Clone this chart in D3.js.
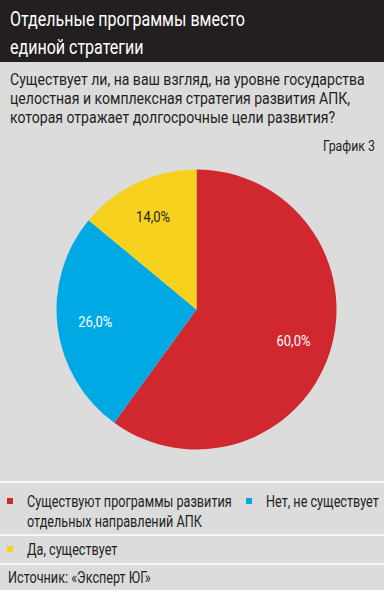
<!DOCTYPE html>
<html>
<head>
<meta charset="utf-8">
<script src="https://cdn.jsdelivr.net/npm/d3@7"></script>
<style>
  body { margin: 0; background: #fff; }
  svg text { font-family: "Roboto", "Liberation Sans", sans-serif; }
</style>
</head>
<body>
<svg id="chart" width="384" height="597"></svg>
<script>
// chart data
var categories = ["Существуют программы развития отдельных направлений АПК", "Нет, не существует", "Да, существует"];
var values = [60.0, 26.0, 14.0];
var labels = ["60,0%", "26,0%", "14,0%"];

var title = ["Отдельные программы вместо", "единой стратегии"];
var question = ["Существует ли, на ваш взгляд, на уровне государства",
                "целостная и комплексная стратегия развития АПК,",
                "которая отражает долгосрочные цели развития?"];

var w = 384, h = 597;
var svg = d3.select("#chart");

var color = d3.scaleOrdinal()
    .domain(categories)
    .range(["#d1272f", "#00a8e4", "#f6d21e"]);

// the original uses a condensed face, so squeeze text horizontally
function addText(parent, x, y, str, size, fill, anchor) {
    return parent.append("text")
        .attr("transform", "translate(" + x + "," + y + ")")
        .attr("font-size", size)
        .attr("fill", fill)
        .attr("text-anchor", anchor || "start")
        .text(str);
}
function squeeze(sel, k) {
    sel.each(function () {
        var t = d3.select(this);
        t.attr("transform", t.attr("transform") + " scale(" + k + ",1)");
    });
}
function fitK(sel, target) {
    return target / sel.node().getComputedTextLength();
}

// background
svg.append("rect").attr("x", 0).attr("y", 0).attr("width", w).attr("height", 590).attr("fill", "#dcdcdd");
svg.append("rect").attr("x", 0).attr("y", 0).attr("width", w).attr("height", 62).attr("fill", "#231f20");

var titleG = svg.append("g");
title.forEach(function (t, i) {
    addText(titleG, 10, 26 + i * 28, t, 21, "#fff");
});
squeeze(titleG.selectAll("text"), fitK(titleG.select("text"), 235));

var qG = svg.append("g");
question.forEach(function (t, i) {
    addText(qG, 10, 85 + i * 19, t, 16.5, "#231f20");
});
squeeze(qG.selectAll("text"), fitK(qG.select("text"), 355));

var gr = addText(svg, 375, 151, "График 3", 15, "#231f20", "end");
squeeze(gr, fitK(gr, 52));

// pie
var cx = 196.5, cy = 309.5, r = 140;
var pie = d3.pie().sort(null).value(function (d) { return d.value; });
var arc = d3.arc().innerRadius(0).outerRadius(r);
var labelArc = d3.arc().innerRadius(102).outerRadius(102);

var data = categories.map(function (c, i) { return { name: c, value: values[i], label: labels[i] }; });

var g = svg.append("g").attr("transform", "translate(" + cx + "," + cy + ")");
var arcs = pie(data);

g.selectAll("path").data(arcs).enter().append("path")
    .attr("d", arc)
    .attr("fill", function (d) { return color(d.data.name); });

var pieLabels = g.append("g");
arcs.forEach(function (d, i) {
    var c = labelArc.centroid(d);
    addText(pieLabels, c[0], c[1] + 5, d.data.label, 14.5, i == 2 ? "#231f20" : "#fff", "middle");
});
squeeze(pieLabels.selectAll("text"), fitK(pieLabels.select("text"), 34));

// separators
[482, 535, 564].forEach(function (y) {
    svg.append("line").attr("x1", 0).attr("x2", w).attr("y1", y).attr("y2", y)
        .attr("stroke", "#fff").attr("stroke-width", 1.5);
});

// legend
var legendItems = [
    { x: 7, y: 498, lines: ["Существуют программы развития", "отдельных направлений АПК"] },
    { x: 246, y: 498, lines: ["Нет, не существует"] },
    { x: 7, y: 546, lines: ["Да, существует"] }
];

var legG = svg.append("g");
legendItems.forEach(function (item, i) {
    svg.append("rect")
        .attr("x", item.x).attr("y", item.y)
        .attr("width", 6).attr("height", 6)
        .attr("fill", color(categories[i]));
    item.lines.forEach(function (t, j) {
        addText(legG, item.x + 20, item.y + 9 + j * 20, t, 17, "#231f20");
    });
});
addText(legG, 8, 583, "Источник: «Эксперт ЮГ»", 17, "#231f20");
squeeze(legG.selectAll("text"), fitK(legG.select("text"), 205));
</script>
</body>
</html>
